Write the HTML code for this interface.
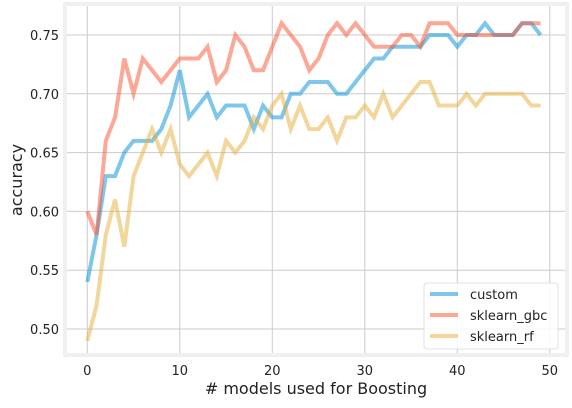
<!DOCTYPE html>
<html><head><meta charset="utf-8"><style>
body{margin:0;background:#fff;font-family:"Liberation Sans","DejaVu Sans",sans-serif}
svg text{font-family:"DejaVu Sans","Liberation Sans",sans-serif;fill:#222}
</style></head><body>
<svg id="chart" width="572" height="403" xmlns="http://www.w3.org/2000/svg">
<rect x="0" y="0" width="572" height="403" fill="#fff"/>
<g id="grid"></g>
<rect x="65" y="4" width="502" height="351" fill="none" stroke="#f0f0f0" stroke-width="4"/>
<g id="series"></g>
<g id="ticks"></g>
<text x="316" y="394" font-size="16" text-anchor="middle"># models used for Boosting</text>
<text x="22" y="180" font-size="16" text-anchor="middle" transform="rotate(-90 22 180)">accuracy</text>
<g>
<rect x="424" y="283" width="134" height="66" rx="3" fill="#fff" fill-opacity="0.85" stroke="#e0e0e0"/>
<line x1="430" y1="294" x2="458" y2="294" stroke="#008fd5" stroke-opacity="0.5" stroke-width="4"/>
<text x="470" y="299" font-size="13">custom</text>
<line x1="430" y1="315" x2="458" y2="315" stroke="#fc4f30" stroke-opacity="0.5" stroke-width="4"/>
<text x="470" y="320" font-size="13">sklearn_gbc</text>
<line x1="430" y1="336" x2="458" y2="336" stroke="#e5ae38" stroke-opacity="0.5" stroke-width="4"/>
<text x="470" y="341" font-size="13">sklearn_rf</text>
</g>
</svg>
<script>
const xTicks=[0,10,20,30,40,50];
const yTicks=[0.50,0.55,0.60,0.65,0.70,0.75];
const customVals=[0.54,0.58,0.63,0.63,0.65,0.66,0.66,0.66,0.67,0.69,0.72,0.68,0.69,0.70,0.68,0.69,0.69,0.69,0.67,0.69,0.68,0.68,0.70,0.70,0.71,0.71,0.71,0.70,0.70,0.71,0.72,0.73,0.73,0.74,0.74,0.74,0.74,0.75,0.75,0.75,0.74,0.75,0.75,0.76,0.75,0.75,0.75,0.76,0.76,0.75];
const gbcVals=[0.60,0.58,0.66,0.68,0.73,0.70,0.73,0.72,0.71,0.72,0.73,0.73,0.73,0.74,0.71,0.72,0.75,0.74,0.72,0.72,0.74,0.76,0.75,0.74,0.72,0.73,0.75,0.76,0.75,0.76,0.75,0.74,0.74,0.74,0.75,0.75,0.74,0.76,0.76,0.76,0.75,0.75,0.75,0.75,0.75,0.75,0.75,0.76,0.76,0.76];
const rfVals=[0.49,0.52,0.58,0.61,0.57,0.63,0.65,0.67,0.65,0.67,0.64,0.63,0.64,0.65,0.63,0.66,0.65,0.66,0.68,0.67,0.69,0.70,0.67,0.69,0.67,0.67,0.68,0.66,0.68,0.68,0.69,0.68,0.70,0.68,0.69,0.70,0.71,0.71,0.69,0.69,0.69,0.70,0.69,0.70,0.70,0.70,0.70,0.70,0.69,0.69];
const NS='http://www.w3.org/2000/svg';
function xs(v){return 87.3+v*9.25;}
function ys(v){return 35+(0.75-v)*1176;}
const grid=document.getElementById('grid'),ticks=document.getElementById('ticks'),series=document.getElementById('series');
xTicks.forEach(t=>{
  const l=document.createElementNS(NS,'line');
  l.setAttribute('x1',xs(t));l.setAttribute('x2',xs(t));l.setAttribute('y1',6);l.setAttribute('y2',353);
  l.setAttribute('stroke','#cbcbcb');l.setAttribute('stroke-width','1');
  
  
  grid.appendChild(l);
  const tx=document.createElementNS(NS,'text');
  tx.setAttribute('x',xs(t));tx.setAttribute('y',375);tx.setAttribute('font-size','13');tx.setAttribute('text-anchor','middle');
  tx.textContent=t;
  
  
  ticks.appendChild(tx);
});
yTicks.forEach(t=>{
  const l=document.createElementNS(NS,'line');
  l.setAttribute('x1',67);l.setAttribute('x2',565);l.setAttribute('y1',ys(t));l.setAttribute('y2',ys(t));
  l.setAttribute('stroke','#cbcbcb');l.setAttribute('stroke-width','1');
  
  
  grid.appendChild(l);
  const tx=document.createElementNS(NS,'text');
  tx.setAttribute('x',59);tx.setAttribute('y',ys(t)+5);tx.setAttribute('font-size','13');tx.setAttribute('text-anchor','end');
  tx.textContent=t.toFixed(2);
  
  
  ticks.appendChild(tx);
});
function drawLine(vals,color,name){
  const p=document.createElementNS(NS,'polyline');
  p.setAttribute('points',vals.map((v,i)=>xs(i)+','+ys(v)).join(' '));
  p.setAttribute('fill','none');p.setAttribute('stroke',color);p.setAttribute('stroke-opacity','0.5');
  p.setAttribute('stroke-width','4');p.setAttribute('stroke-linejoin','miter');
  
  
  series.appendChild(p);
}
drawLine(customVals,'#008fd5','custom-line');
drawLine(gbcVals,'#fc4f30','sklearn-gbc-line');
drawLine(rfVals,'#e5ae38','sklearn-rf-line');
</script>
</body></html>
